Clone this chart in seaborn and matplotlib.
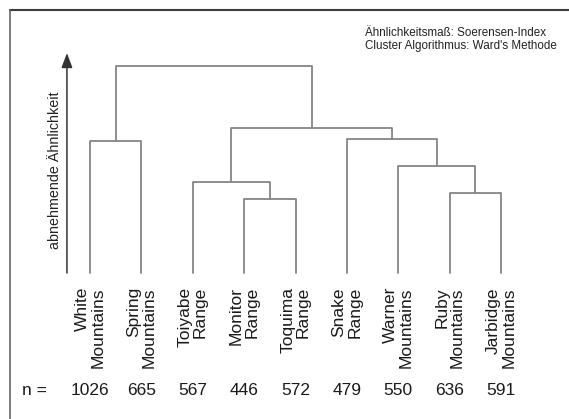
import matplotlib
matplotlib.use("Agg")
import matplotlib.pyplot as plt
from matplotlib.lines import Line2D
from matplotlib import transforms
import seaborn as sns
import pandas as pd

# Mountain ranges in dendrogram order and their sample sizes
leaf_names = [
    "White\nMountains", "Spring\nMountains", "Toiyabe\nRange", "Monitor\nRange",
    "Toquima\nRange", "Snake\nRange", "Warner\nMountains", "Ruby\nMountains",
    "Jarbidge\nMountains",
]
n_samples = [1026, 665, 567, 446, 572, 479, 550, 636, 591]

# Ward linkage steps: indices < 9 are leaves, 9+k is the cluster formed in step k
merge_left = [3, 7, 2, 6, 0, 5, 11, 13]
merge_right = [4, 8, 9, 10, 1, 12, 14, 15]
merge_height = [74, 80, 91.5, 107, 132, 134, 145, 207]

y_label = "abnehmende Ähnlichkeit"
note_lines = ["Ähnlichkeitsmaß: Soerensen-Index", "Cluster Algorithmus: Ward's Methode"]

sns.set_theme(style="white")
plt.rcParams["font.family"] = ["Liberation Sans", "DejaVu Sans"]

# Build the U-shaped links of the dendrogram
n_leaves = len(leaf_names)
node_pos = {i: (float(i), 0.0) for i in range(n_leaves)}
rows = []
for k, (a, b, h) in enumerate(zip(merge_left, merge_right, merge_height)):
    xa, ya = node_pos[a]
    xb, yb = node_pos[b]
    for x, y in [(xa, ya), (xa, h), (xb, h), (xb, yb)]:
        rows.append({"link": k, "x": x, "y": y})
    node_pos[n_leaves + k] = ((xa + xb) / 2.0, h)
links = pd.DataFrame(rows)

fig = plt.figure(figsize=(5.69, 4.19), dpi=100)
fig.patch.set_facecolor("white")
ax = fig.add_axes([0.1041, 0.3484, 0.8307, 0.5489])

sns.lineplot(data=links, x="x", y="y", units="link", estimator=None, sort=False,
             color="#858585", lw=1.3, ax=ax, legend=False, clip_on=False)

ax.set_xlim(-0.6, 8.6)
ax.set_ylim(0, 230)
ax.axis("off")

# Direction arrow for decreasing similarity
ax.annotate("", xy=(-0.45, 220), xytext=(-0.45, 0),
            arrowprops=dict(arrowstyle="-|>,head_length=0.8,head_width=0.3",
                            mutation_scale=11, color="#333333", lw=1.1,
                            shrinkA=0, shrinkB=0),
            annotation_clip=False)
ax.text(-0.68, 103, y_label, rotation=90, ha="center", va="center",
        fontsize=10.3, color="#222222", clip_on=False)

# Leaf labels and sample sizes
for i, (name, n) in enumerate(zip(leaf_names, n_samples)):
    ax.text(i, -14, name, rotation=90, ha="center", va="top",
            multialignment="right", linespacing=1.05, fontsize=12.5,
            color="#1a1a1a", clip_on=False)
    ax.text(i, -117, str(n), ha="center", va="center", fontsize=12.5,
            color="#1a1a1a", clip_on=False)

mixed = transforms.blended_transform_factory(fig.transFigure, ax.transData)
ax.text(22 / 569, -117, "n =", ha="left", va="center", fontsize=12.5,
        color="#1a1a1a", transform=mixed, clip_on=False)

# Method note in the upper right
fig.text(365 / 569, 1 - 33 / 419, note_lines[0], ha="left", va="center",
         fontsize=8.4, color="#222222")
fig.text(365 / 569, 1 - 46 / 419, note_lines[1], ha="left", va="center",
         fontsize=8.4, color="#222222")

# Frame lines along the top and left edges
fig.add_artist(Line2D([10 / 569, 1.0], [1 - 10 / 419, 1 - 10 / 419],
                      transform=fig.transFigure, color="#3c3c3c", lw=1.5))
fig.add_artist(Line2D([10 / 569, 10 / 569], [0.0, 1 - 10 / 419],
                      transform=fig.transFigure, color="#666666", lw=1.2))

fig.savefig("out.png", dpi=100, facecolor="white")
